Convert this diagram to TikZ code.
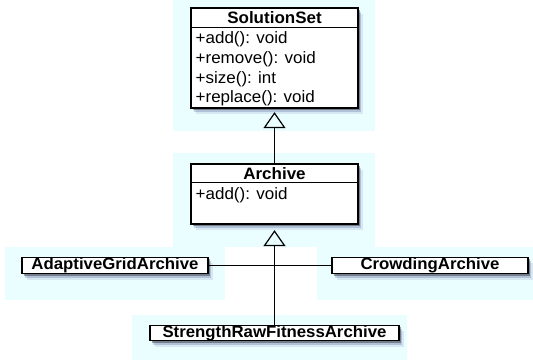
\documentclass[tikz,border=0pt]{standalone}
\usepackage{fontspec}
\setmainfont{Liberation Sans}[FakeStretch=1.03]
\usetikzlibrary{arrows.meta,shadows}
\definecolor{bgcyan}{RGB}{235,254,255}
\definecolor{shcol}{RGB}{70,80,140}
\tikzset{
  panel/.style={fill=bgcyan, draw=none},
  cls/.style={draw=black, line width=1.3pt, fill=white, inner sep=0pt,
    drop shadow={shadow xshift=4.5pt,shadow yshift=-6pt,fill=shcol,opacity=0.12},
    drop shadow={shadow xshift=3pt,shadow yshift=-4pt,fill=shcol,opacity=0.25},
    drop shadow={shadow xshift=1.5pt,shadow yshift=-2pt,fill=black,opacity=0.35}},
  ttl/.style={font=\fontsize{16.5}{18}\selectfont\bfseries, inner sep=0pt, anchor=base},
  mem/.style={font=\fontsize{16.5}{18}\selectfont, inner sep=0pt, anchor=base west},
  sub/.style={cls, font=\fontsize{16.3}{18}\selectfont\bfseries},
  sep/.style={draw=black, line width=1pt},
  conn/.style={draw=black, line width=1.2pt},
  inh/.style={conn, -{Triangle[open, length=16pt, width=22pt, line width=1.2pt]}},
}
\begin{document}
\begin{tikzpicture}[x=1pt, y=-1pt]
\useasboundingbox (0,0) rectangle (533,360);
% background panels
\fill[panel] (173,0) rectangle (375,131);
\fill[panel] (173,153) rectangle (375,247);
\fill[panel] (5,247) rectangle (225,300);
\fill[panel] (317,247) rectangle (533,300);
\fill[panel] (132,315) rectangle (407,360);
% SolutionSet
\node[cls, minimum width=167pt, minimum height=100pt] (ss) at (274.5,58) {};
\node[ttl] (sst) at (274.5,23.8) {SolutionSet};
\draw[sep] (ss.north west) ++(0,20) -- ++(167,0);
\node[mem] (m1) at (195.5,43.8) {+add(): void};
\node[mem] (m2) at (195.5,63.5) {+remove(): void};
\node[mem] (m3) at (195.5,83) {+size(): int};
\node[mem] (m4) at (195.5,102.3) {+replace(): void};
% Archive
\node[cls, minimum width=167pt, minimum height=60pt] (arch) at (274.5,194) {};
\node[ttl] (archt) at (274.5,179.5) {Archive};
\draw[sep] (arch.north west) ++(0,19) -- ++(167,0);
\node[mem] (am1) at (195.5,199.8) {+add(): void};
% subclasses
\node[sub, minimum width=186pt, minimum height=16.5pt] (ag) at (115,265.5) {AdaptiveGridArchive};
\node[sub, minimum width=196pt, minimum height=16.5pt] (ca) at (430,265.5) {CrowdingArchive};
\node[sub, minimum width=249pt, minimum height=15.5pt] (sr) at (274.5,333) {StrengthRawFitnessArchive};
% connectors
\draw[inh, shorten >=3.5pt] (arch.north) -- (ss.south);
\draw[conn] (ag.east) -- (ca.west);
\draw[inh, shorten >=5.5pt] (sr.north) -- (arch.south);
\end{tikzpicture}
\end{document}
